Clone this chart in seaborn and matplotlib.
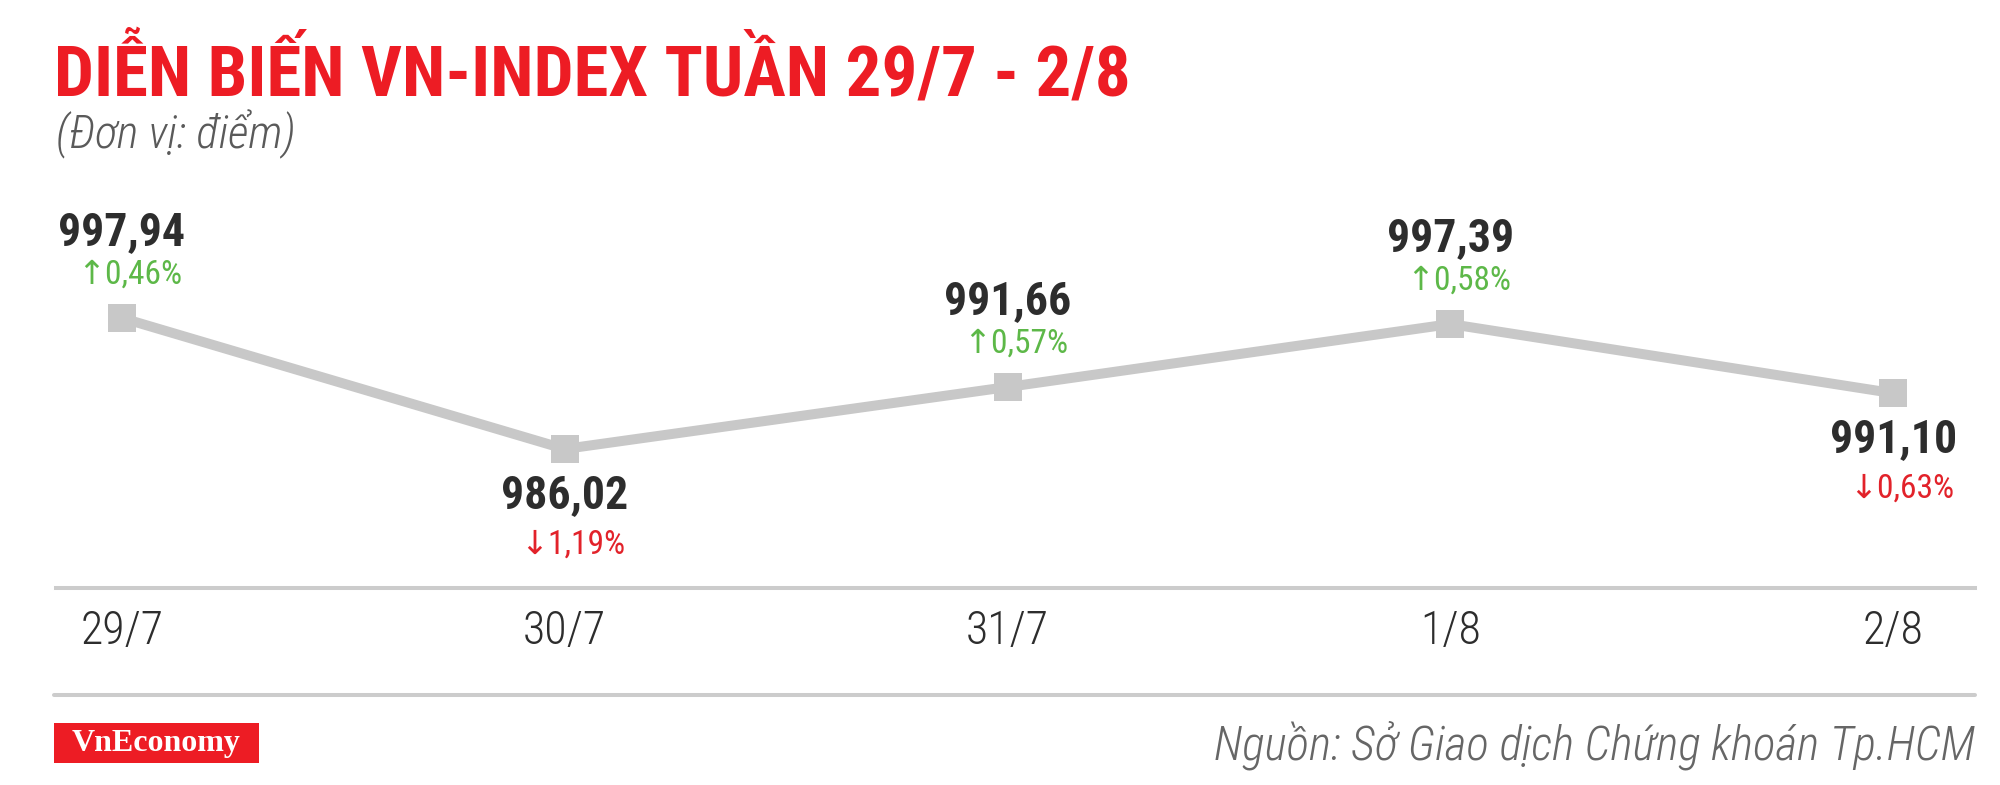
import numpy as np
import pandas as pd
import matplotlib
matplotlib.use("Agg")
import matplotlib.pyplot as plt
import seaborn as sns
from matplotlib.lines import Line2D
from matplotlib.patches import Rectangle

# --- chart data ---
dates = ["29/7", "30/7", "31/7", "1/8", "2/8"]
closes = [997.94, 986.02, 991.66, 997.39, 991.10]
pct_change = [0.46, -1.19, 0.57, 0.58, -0.63]

title = "DIỄN BIẾN VN-INDEX TUẦN 29/7 - 2/8"
subtitle = "(Đơn vị: điểm)"
source = "Nguồn: Sở Giao dịch Chứng khoán Tp.HCM"
brand = "VnEconomy"

# colours
RED = "#ed1c24"
GREEN = "#5db848"
PCT_RED = "#e2222a"
LINE_GREY = "#c8c8c8"
RULE_GREY = "#cccccc"
DARK = "#2d2d2d"

sns.set_theme(style="white")
narrow = ["Roboto Condensed", "Liberation Sans Narrow", "DejaVu Sans"]
plt.rcParams["font.family"] = narrow

df = pd.DataFrame({"pos": np.arange(len(dates)), "close": closes, "pct": pct_change})

W, H = 2000, 785
fig = plt.figure(figsize=(W / 100, H / 100), dpi=100)
fig.patch.set_facecolor("white")

# axes from the left rule end to the right rule end, bottom spine = upper grey rule
ax = fig.add_axes([56 / W, 1 - 588 / H, (1975 - 56) / W, (588 - 150) / H])
ax.set_facecolor("white")

sns.lineplot(data=df, x="pos", y="close", ax=ax, color=LINE_GREY, linewidth=7.2,
             marker="s", markersize=20, markeredgewidth=0, markerfacecolor=LINE_GREY)

ax.set_xlim(-0.149, 4.185)
ax.set_ylim(973.37, 1013.23)
for side in ["top", "left", "right"]:
    ax.spines[side].set_visible(False)
ax.spines["bottom"].set_color(RULE_GREY)
ax.spines["bottom"].set_linewidth(2.9)
ax.set_xticks(df["pos"])
ax.set_xticklabels(dates, fontsize=33, color=DARK, fontweight="light")
ax.tick_params(axis="x", length=0, pad=15)
ax.set_yticks([])
ax.set_xlabel("")
ax.set_ylabel("")

# value and % change labels
for i, row in df.iterrows():
    up = row["pct"] >= 0
    val_txt = f"{row['close']:.2f}".replace(".", ",")
    pct_txt = ("↑" if up else "↓") + f"{abs(row['pct']):.2f}".replace(".", ",") + "%"
    dy = 62 if up else -33
    v = ax.annotate(val_txt, xy=(row["pos"], row["close"]), xytext=(0, dy),
                    textcoords="offset points", ha="center", va="center",
                    fontsize=33, fontweight="bold", color=DARK)
    gap = -31 if up else -36
    ax.annotate(pct_txt, xy=(1, 0.5), xycoords=v, xytext=(-2, gap),
                textcoords="offset points", ha="right", va="center",
                fontsize=24, color=GREEN if up else PCT_RED)

# headings
fig.text(54 / W, 1 - 96 / H, title, fontsize=51, fontweight="bold", color=RED,
         va="baseline", ha="left")
fig.text(56 / W, 1 - 148 / H, subtitle, fontsize=33, style="italic", color="#5a5a5a",
         fontweight="light", va="baseline", ha="left")

# lower rule
fig.add_artist(Line2D([54 / W, 1975 / W], [1 - 695 / H] * 2, transform=fig.transFigure,
                      color=RULE_GREY, linewidth=2.9))

# brand box
fig.add_artist(Rectangle((54 / W, 1 - 763 / H), 205 / W, 40 / H, transform=fig.transFigure,
                         facecolor=RED, edgecolor="none"))
fig.text(156.5 / W, 1 - 743 / H, brand, fontsize=23, fontweight="bold", color="white",
         family=["Liberation Serif", "DejaVu Serif"], ha="center", va="center")

# source
fig.text(1975 / W, 1 - 760 / H, source, fontsize=34, style="italic", color="#666666",
         fontweight="light", ha="right", va="baseline")

fig.savefig("out.png", dpi=100, facecolor="white")
